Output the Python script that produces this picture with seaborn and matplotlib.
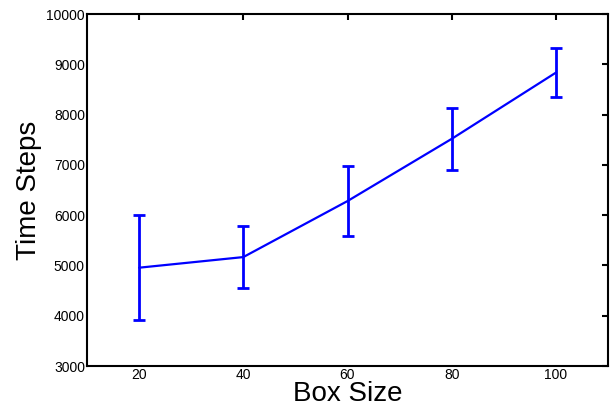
import matplotlib
matplotlib.use('Agg')
import matplotlib.pyplot as plt
import seaborn as sns
import pandas as pd

# box sizes and mean time steps with error half-widths
box_size = [20, 40, 60, 80, 100]
time_steps = [4955, 5166, 6280, 7517, 8834]
err = [1043, 613, 700, 617, 488]

sns.set_style("white")
plt.rcParams['font.family'] = ['Liberation Sans', 'DejaVu Sans']
plt.rcParams['text.color'] = 'black'
plt.rcParams['axes.labelcolor'] = 'black'

df = pd.DataFrame({'Box Size': box_size, 'Time Steps': time_steps})

fig = plt.figure(figsize=(6.1, 4.09), dpi=100)
ax = fig.add_axes([87 / 610, 1 - 366 / 409, (608 - 87) / 610, (366 - 14) / 409])

sns.lineplot(data=df, x='Box Size', y='Time Steps', color='#0000ff', linewidth=1.6, ax=ax)
ax.errorbar(box_size, time_steps, yerr=err, fmt='none', ecolor='#0000ff',
            elinewidth=2, capsize=4, capthick=2)

ax.set_xlim(10, 110)
ax.set_ylim(3000, 10000)
ax.set_xticks([20, 40, 60, 80, 100])
ax.set_yticks(range(3000, 10001, 1000))
ax.tick_params(direction='in', length=4, width=1.5, top=True, right=True,
               labelsize=10, pad=1.5, colors='black')
for s in ax.spines.values():
    s.set_linewidth(1.5)
    s.set_color('black')

ax.set_xlabel('Box Size', fontsize=20, labelpad=-1)
ax.set_ylabel('Time Steps', fontsize=20, labelpad=3)

fig.savefig('out.png', dpi=100)
